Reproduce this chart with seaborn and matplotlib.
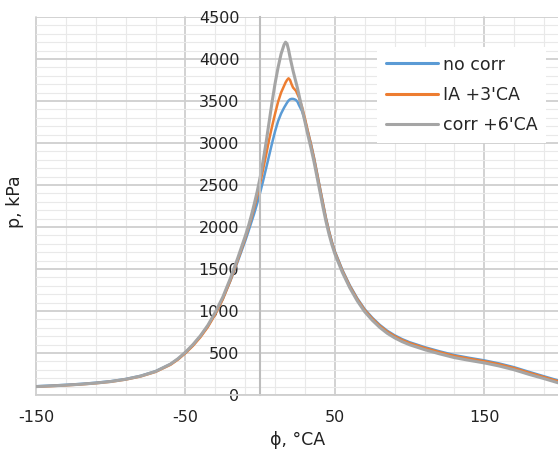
import matplotlib
matplotlib.use("Agg")
import matplotlib.pyplot as plt
from matplotlib.ticker import FixedLocator, MultipleLocator
import seaborn as sns
import pandas as pd

# ---- data ----
phi = [-150, -140, -130, -120, -110, -100, -90, -80, -70, -60, -55, -50, -45, -40, -35,
       -30, -25, -20, -15, -10, -8, -6, -4, -2, 0, 2, 4, 6, 8, 10, 12, 14, 16, 17, 18,
       19, 20, 21, 22, 23, 24, 25, 26, 28, 30, 32, 34, 36, 38, 40, 42, 44, 46, 48, 50,
       55, 60, 65, 70, 75, 80, 85, 90, 95, 100, 110, 120, 130, 140, 150, 160, 170, 180,
       190, 200]

p_no_corr = [104, 112, 121, 132, 146, 164, 190, 228, 283, 368, 430, 506, 594, 698, 820,
             970, 1145, 1355, 1590, 1835, 1940, 2050, 2160, 2280, 2410, 2550, 2700, 2850, 3000, 3140, 3260, 3350, 3420, 3450, 3480,
             3505, 3520, 3525, 3525, 3520, 3510, 3490, 3450, 3380, 3270, 3130, 2990, 2830, 2650, 2470, 2290, 2110, 1960, 1825, 1710,
             1490, 1305, 1150, 1020, 920, 835, 765, 710, 665, 628, 570, 520, 475, 442, 412, 375, 330, 275,
             222, 170]

p_ia_3 = [98, 106, 115, 126, 140, 158, 184, 221, 275, 360, 422, 498, 585, 688, 810,
          962, 1140, 1360, 1605, 1865, 1980, 2100, 2230, 2370, 2520, 2690, 2860, 3040, 3200, 3350, 3490, 3600, 3680, 3720, 3750,
          3770, 3750, 3700, 3660, 3640, 3620, 3580, 3540, 3430, 3290, 3130, 2980, 2820, 2640, 2460, 2280, 2100, 1950, 1815, 1700,
          1480, 1295, 1140, 1010, 910, 825, 755, 700, 655, 618, 560, 510, 465, 432, 402, 365, 320, 265,
          213, 160]

p_corr_6 = [100, 108, 117, 128, 142, 160, 187, 225, 280, 368, 432, 510, 600, 705, 830,
            985, 1165, 1385, 1630, 1890, 2000, 2130, 2270, 2420, 2590, 2790, 3010, 3250, 3490, 3710, 3900, 4060, 4170, 4200, 4180,
            4110, 4020, 3940, 3860, 3790, 3720, 3650, 3570, 3410, 3250, 3090, 2940, 2780, 2600, 2420, 2240, 2070, 1920, 1790, 1680,
            1460, 1275, 1120, 990, 890, 805, 735, 680, 635, 598, 540, 490, 445, 412, 382, 345, 300, 245,
            195, 142]

series_names = ["no corr", "IA +3'CA", "corr +6'CA"]
series_colors = ["#5B9BD5", "#ED7D31", "#A5A5A5"]
series_widths = [1.8, 1.8, 2.2]

x_major_ticks = [-150, -50, 50, 150]
y_ticks = [0, 500, 1000, 1500, 2000, 2500, 3000, 3500, 4000, 4500]

assert len(phi) == len(p_no_corr) == len(p_ia_3) == len(p_corr_6)

frames = []
for name, vals in zip(series_names, [p_no_corr, p_ia_3, p_corr_6]):
    frames.append(pd.DataFrame({"phi": phi, "p": vals, "series": name}))
df = pd.concat(frames, ignore_index=True)

# ---- plot ----
sns.set_style("white")
plt.rcParams["font.family"] = ["DejaVu Sans"]

fig = plt.figure(figsize=(5.58, 4.69), dpi=100)
ax = fig.add_axes([0.0645, 0.1578, 1.0 - 0.0645, 0.9638 - 0.1578])

for name, col, lw in zip(series_names, series_colors, series_widths):
    sub = df[df["series"] == name]
    sns.lineplot(data=sub, x="phi", y="p", color=col, linewidth=lw, label=name,
                 estimator=None, sort=False, ax=ax)

ax.set_xlim(-150, 199.3)
ax.set_ylim(0, 4500)

ax.xaxis.set_major_locator(FixedLocator(x_major_ticks))
ax.xaxis.set_minor_locator(FixedLocator(list(range(-150, 201, 20))))
ax.yaxis.set_major_locator(FixedLocator(y_ticks))
ax.yaxis.set_minor_locator(MultipleLocator(100))

ax.grid(which="major", color="#cfcfcf", linewidth=1.3, zorder=0)
ax.grid(which="minor", color="#e9e9e9", linewidth=0.8, zorder=0)
ax.set_axisbelow(True)
for gl in ax.get_ygridlines() + ax.get_xgridlines():
    gl.set_clip_on(False)

for s in ["top", "right"]:
    ax.spines[s].set_visible(False)
ax.spines["left"].set_position(("data", 0))
ax.spines["left"].set_color("#bdbdbd")
ax.spines["left"].set_linewidth(1.5)
ax.spines["bottom"].set_color("#cfcfcf")
ax.spines["bottom"].set_linewidth(1.3)

ax.tick_params(axis="x", which="both", length=0, pad=11, labelsize=11.5, labelcolor="#222222")
ax.tick_params(axis="y", which="both", length=0, pad=15, labelsize=11.5, labelcolor="#222222")
ax.set_xticklabels([str(v) for v in x_major_ticks])
ax.set_yticklabels([str(v) for v in y_ticks])

ax.set_xlabel("ϕ, °CA", fontsize=12.5, color="#222222", va="center")
ax.xaxis.set_label_coords(0.502, -0.119)
ax.set_ylabel("p, kPa", fontsize=12.5, color="#222222", va="center")
ax.yaxis.set_label_coords(-0.040, 0.511)

leg = ax.legend(loc="upper left", bbox_to_anchor=(0.653, 0.921), borderaxespad=0,
                fontsize=12.5, handlelength=3.0, handletextpad=0.3, labelspacing=0.7,
                borderpad=0.5, frameon=True, fancybox=False, framealpha=1.0,
                facecolor="white", edgecolor="none")
for h in leg.get_lines():
    h.set_linewidth(2.2)

fig.savefig("out.png", dpi=100)
